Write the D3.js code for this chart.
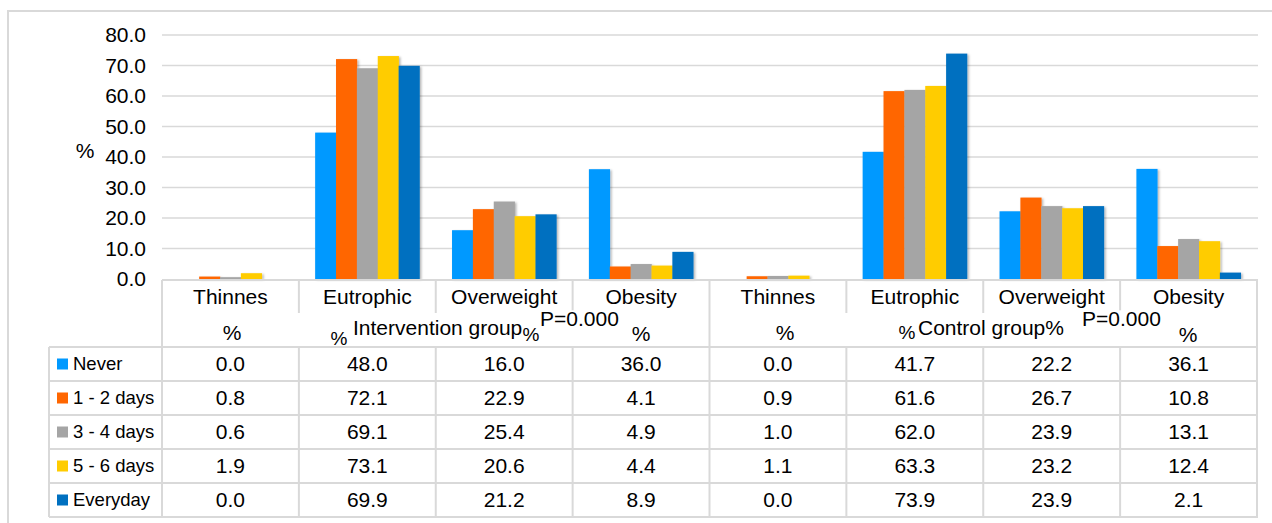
<!DOCTYPE html>
<html>
<head>
<meta charset="utf-8">
<script src="https://cdn.jsdelivr.net/npm/d3@7/dist/d3.min.js"></script>
<style>
  html, body { margin: 0; padding: 0; background: #fff; }
  svg { display: block; font-family: Arial, "Liberation Sans", sans-serif; }
</style>
</head>
<body>
<svg id="chart" width="1272" height="523"></svg>
<script>
// Weight status by frequency, intervention vs control group (%)
const categories = ["Thinnes", "Eutrophic", "Overweight", "Obesity",
                    "Thinnes", "Eutrophic", "Overweight", "Obesity"];
const seriesNames = ["Never", "1 - 2 days", "3 - 4 days", "5 - 6 days", "Everyday"];
const seriesColors = ["#0099FF", "#FF6600", "#A5A5A5", "#FFCC00", "#0070C0"];

const never     = [0.0, 48.0, 16.0, 36.0, 0.0, 41.7, 22.2, 36.1];
const days12    = [0.8, 72.1, 22.9, 4.1, 0.9, 61.6, 26.7, 10.8];
const days34    = [0.6, 69.1, 25.4, 4.9, 1.0, 62.0, 23.9, 13.1];
const days56    = [1.9, 73.1, 20.6, 4.4, 1.1, 63.3, 23.2, 12.4];
const everyday  = [0.0, 69.9, 21.2, 8.9, 0.0, 73.9, 23.9, 2.1];
const seriesValues = [never, days12, days34, days56, everyday];

const yTicks = [0, 10, 20, 30, 40, 50, 60, 70, 80];

const svg = d3.select("#chart");
const FONT = 21;
const GRID = "#d9d9d9";

// outer frame
svg.append("path")
  .attr("d", "M8,524 L8,11 L1273,11")
  .attr("fill", "none").attr("stroke", GRID).attr("stroke-width", 2);

// scales
const idx = d3.range(categories.length);
const x = d3.scaleBand().domain(idx).range([162, 1257]).padding(0);
const xs = d3.scaleBand().domain(d3.range(seriesNames.length))
  .range([0, x.bandwidth()]).paddingInner(0).paddingOuter(0.78);
const y = d3.scaleLinear().domain([0, 80]).range([279, 35]);
const rows = d3.scaleBand().domain(d3.range(seriesNames.length)).range([347, 517]);

// shadow under bars
const defs = svg.append("defs");
const f = defs.append("filter").attr("id", "shadow")
  .attr("x", "-20%").attr("y", "-20%").attr("width", "160%").attr("height", "140%");
f.append("feDropShadow").attr("dx", 1.5).attr("dy", 1).attr("stdDeviation", 1.3)
  .attr("flood-color", "#000").attr("flood-opacity", 0.3);

// gridlines
svg.append("g").selectAll("line").data(yTicks.filter(t => t > 0)).join("line")
  .attr("x1", 162).attr("x2", 1258)
  .attr("y1", d => y(d)).attr("y2", d => y(d))
  .attr("stroke", GRID).attr("stroke-width", 1.5);

// y axis labels
const yAxis = d3.axisLeft(y).tickValues(yTicks).tickFormat(d3.format(".1f")).tickSize(0).tickPadding(0);
const ya = svg.append("g").attr("transform", "translate(146,0)").call(yAxis);
ya.select(".domain").remove();
ya.selectAll("text").attr("font-size", FONT).attr("fill", "#000")
  .attr("font-family", "Arial, 'Liberation Sans', sans-serif");

svg.append("text").attr("x", 85).attr("y", 151).attr("dy", "0.35em")
  .attr("text-anchor", "middle").attr("font-size", FONT).text("%");

// bars
const barG = svg.append("g").attr("filter", "url(#shadow)");
seriesValues.forEach((vals, s) => {
  barG.append("g").selectAll("rect").data(idx).join("rect")
    .attr("x", i => x(i) + xs(s))
    .attr("width", xs.bandwidth() + 0.3)
    .attr("y", i => y(vals[i]))
    .attr("height", i => y(0) - y(vals[i]))
    .attr("fill", seriesColors[s]);
});

// data table lines
const tl = svg.append("g").attr("stroke", GRID).attr("stroke-width", 2).attr("fill", "none");
tl.append("line").attr("x1", 162).attr("x2", 1258).attr("y1", 280).attr("y2", 280);
// category boundaries in first header row
idx.concat([categories.length]).forEach(i => {
  const xx = i < categories.length ? x(i) : 1257;
  tl.append("line").attr("x1", xx).attr("x2", xx).attr("y1", 280).attr("y2", 313);
});
// group boundaries through second header row
[162, x(4), 1257].forEach(xx => {
  tl.append("line").attr("x1", xx).attr("x2", xx).attr("y1", 313).attr("y2", 347);
});
// rows
d3.range(seriesNames.length + 1).forEach(r => {
  const yy = r < seriesNames.length ? rows(r) : 517;
  tl.append("line").attr("x1", 49).attr("x2", 1258).attr("y1", yy).attr("y2", yy);
});
// columns in data rows
[49].concat(idx.map(i => x(i))).concat([1257]).forEach(xx => {
  tl.append("line").attr("x1", xx).attr("x2", xx).attr("y1", 347).attr("y2", 517);
});

// category labels
svg.append("g").selectAll("text").data(idx).join("text")
  .attr("x", i => x(i) + x.bandwidth() / 2).attr("y", 297).attr("dy", "0.35em")
  .attr("text-anchor", "middle").attr("font-size", FONT).text(i => categories[i]);

// second header row: units, group names and test results
const sub = svg.append("g").attr("font-size", FONT);
const subLabels = [
  { t: "%", x: 232, y: 333, a: "middle" },
  { t: "%", x: 339, y: 338, a: "middle", s: 19 },
  { t: "Intervention group", x: 353, y: 328, a: "start" },
  { t: "%", x: 531, y: 334, a: "middle", s: 19 },
  { t: "%", x: 641, y: 334, a: "middle" },
  { t: "%", x: 785, y: 333, a: "middle" },
  { t: "%", x: 907, y: 332, a: "middle", s: 19 },
  { t: "Control group%", x: 918, y: 328, a: "start" },
  { t: "%", x: 1188, y: 335, a: "middle" }
];
sub.selectAll("text").data(subLabels).join("text")
  .attr("x", d => d.x).attr("y", d => d.y).attr("dy", "0.35em")
  .attr("text-anchor", d => d.a).attr("font-size", d => d.s || FONT).text(d => d.t);

// P-values with white backing
[{ x: 540, y: 319 }, { x: 1082, y: 319 }].forEach(p => {
  const g = svg.append("g");
  const t = g.append("text").attr("x", p.x).attr("y", p.y).attr("dy", "0.35em")
    .attr("font-size", FONT).text("P=0.000");
  const b = t.node().getBBox();
  g.insert("rect", "text").attr("x", b.x).attr("y", b.y + 3).attr("width", b.width)
    .attr("height", b.height - 6).attr("fill", "#fff");
});

// legend column
const leg = svg.append("g");
seriesNames.forEach((n, s) => {
  const cy = rows(s) + rows.bandwidth() / 2;
  leg.append("rect").attr("x", 57).attr("y", cy - 5.5).attr("width", 11).attr("height", 11)
    .attr("fill", seriesColors[s]);
  leg.append("text").attr("x", 73).attr("y", cy).attr("dy", "0.35em")
    .attr("font-size", 18.5).text(n);
});

// values
const fmt = d3.format(".1f");
seriesValues.forEach((vals, s) => {
  const cy = rows(s) + rows.bandwidth() / 2;
  svg.append("g").selectAll("text").data(idx).join("text")
    .attr("x", i => x(i) + x.bandwidth() / 2).attr("y", cy).attr("dy", "0.35em")
    .attr("text-anchor", "middle").attr("font-size", FONT).text(i => fmt(vals[i]));
});
</script>
</body>
</html>
